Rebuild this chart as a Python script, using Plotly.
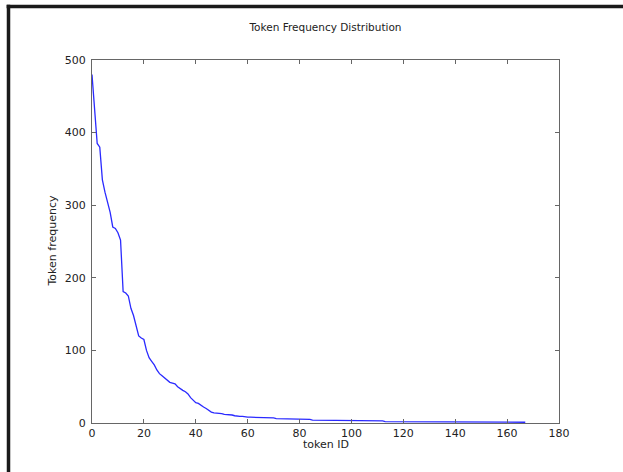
import plotly.graph_objects as go

title_text = "Token Frequency Distribution"
x_label = "token ID"
y_label = "Token frequency"

head_freq = [480, 430, 385, 380, 335, 318, 305, 290, 270, 268,
             262, 252, 181, 179, 175, 158, 148, 135, 120, 117,
             115, 100, 90, 85, 80, 73, 68, 65, 62, 60,
             56, 55, 54, 50, 47, 45, 43, 40, 35, 31,
             28, 27, 24, 22, 20, 17, 15, 14, 14, 13,
             13, 12, 12, 11, 11, 10, 9, 9, 9, 8,
             8, 8, 8, 7, 7, 7, 7, 7, 7, 7,
             7, 6, 6, 6, 6, 6, 6, 6, 6, 5,
             5, 5, 5, 5, 5]
tail_freq = [4] * 16 + [3] * 12 + [2] * 21 + [1] * 34
token_freq = head_freq + tail_freq
token_id = list(range(len(token_freq)))

x_ticks = [0, 20, 40, 60, 80, 100, 120, 140, 160, 180]
y_ticks = [0, 100, 200, 300, 400, 500]

fig = go.Figure()
fig.add_trace(go.Scatter(x=token_id, y=token_freq, mode="lines",
                         line=dict(color="#2a2aff", width=1.3), showlegend=False))

W, H = 623, 472
L, R, T, B = 92, 64, 60, 49
pw, ph = W - L - R, H - T - B

axis_common = dict(showline=True, linecolor="#666666", linewidth=1, mirror="ticks",
                   ticks="inside", ticklen=4, tickcolor="#666666", showgrid=False,
                   zeroline=False, tickfont=dict(family="DejaVu Sans", size=11, color="#222222"))

fig.update_xaxes(range=[0, 180], tickvals=x_ticks, **axis_common)
fig.update_yaxes(range=[0, 500], tickvals=y_ticks, ticklabelstandoff=3, **axis_common)

bx = (8.5 - L) / pw
by = (H - B - 6.5) / ph
fig.add_shape(type="line", xref="paper", yref="paper",
              x0=bx, x1=bx, y0=-0.3, y1=by + 0.005,
              line=dict(color="#1a1a1a", width=3.5))
fig.add_shape(type="line", xref="paper", yref="paper",
              x0=bx - 0.004, x1=1.3, y0=by, y1=by,
              line=dict(color="#1a1a1a", width=3.5))

fig.update_layout(
    width=W, height=H,
    margin=dict(l=L, r=R, t=T, b=B),
    paper_bgcolor="white", plot_bgcolor="white",
    title=dict(text=title_text, x=(L + pw / 2) / W, xanchor="center",
               y=1 - 27 / H, yanchor="middle", yref="container",
               font=dict(family="DejaVu Sans", size=10.5, color="#222222")),
    annotations=[
        dict(text=x_label, xref="paper", yref="paper", x=0.5, y=-(444 - (H - B)) / ph,
             xanchor="center", yanchor="middle", showarrow=False,
             font=dict(family="DejaVu Sans", size=11, color="#222222")),
        dict(text=y_label, xref="paper", yref="paper", x=(52 - L) / pw, y=0.5,
             xanchor="center", yanchor="middle", showarrow=False, textangle=-90,
             font=dict(family="DejaVu Sans", size=11, color="#222222")),
    ],
)

fig.write_html("out.html", config={"displayModeBar": False},
               post_script="document.body.style.margin='0';document.body.style.overflow='hidden';"
                           "document.documentElement.style.overflow='hidden';window.scrollTo(0,0);")
